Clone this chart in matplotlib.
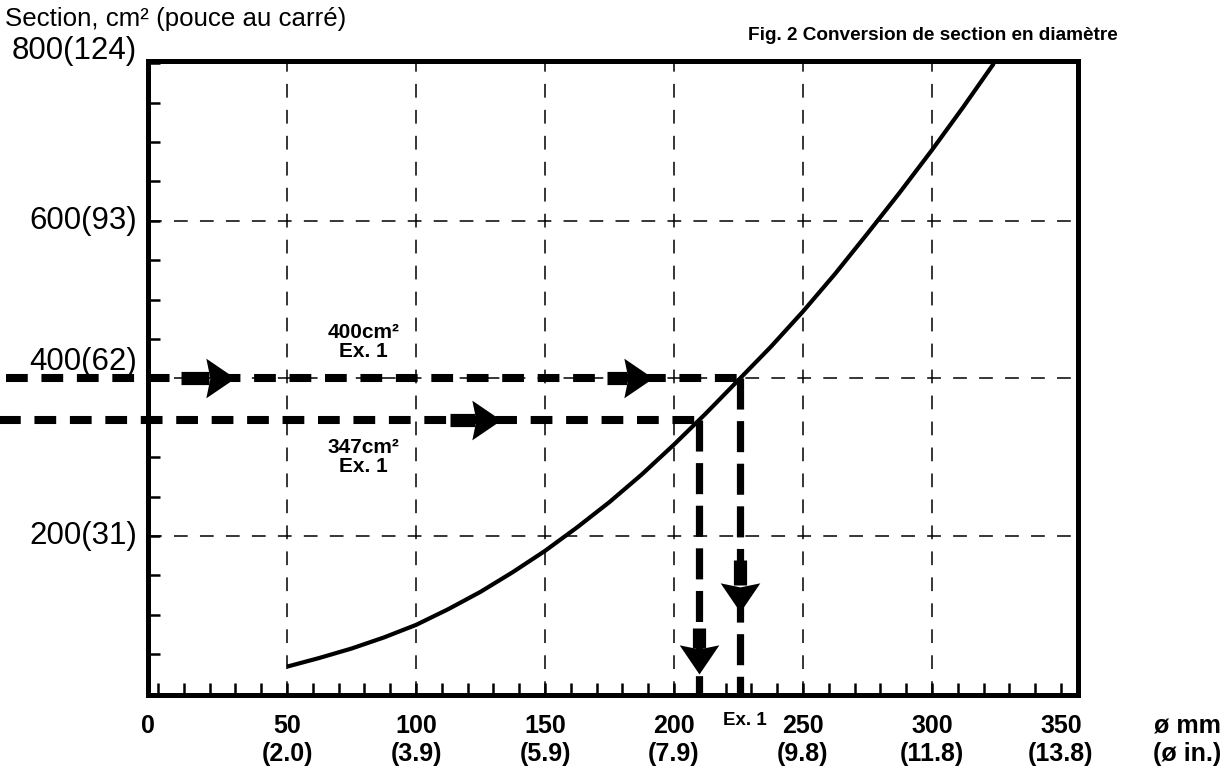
import matplotlib
matplotlib.use("Agg")
import matplotlib.pyplot as plt
import numpy as np
from matplotlib.transforms import ScaledTranslation, Affine2D
from matplotlib.path import Path
from matplotlib.markers import MarkerStyle

plt.rcParams["font.family"] = ["Liberation Sans", "DejaVu Sans"]

# Section (cm²) against pipe diameter (mm)
DIAMETER_MM = [50, 62.5, 75, 87.5, 100, 112.5, 125, 137.5, 150, 162.5, 175, 187.5,
               200, 212.5, 225, 237.5, 250, 262.5, 275, 287.5, 300, 312, 324]
SECTION_CM2 = [34, 45, 57, 71, 87, 107, 129, 154, 181, 211, 243, 278,
               316, 356, 398, 440, 485, 533, 584, 636, 690, 744, 800]

# Worked examples (section values stated on the chart)
EXAMPLE_SECTIONS = [400, 347]
EXAMPLE_LABELS = ["400cm²\nEx. 1", "347cm²\nEx. 1"]

X_TICKS = [0, 50, 100, 150, 200, 250, 300, 350]
X_TICK_LABELS = ["0", "50\n(2.0)", "100\n(3.9)", "150\n(5.9)", "200\n(7.9)",
                 "250\n(9.8)", "300\n(11.8)", "350\n(13.8)"]
Y_TICKS = [200, 400, 600, 800]
Y_TICK_LABELS = ["200(31)", "400(62)", "600(93)", "800(124)"]

GRID_X = [50, 100, 150, 200, 250, 300]
GRID_Y = [200, 400, 600]

fig = plt.figure(figsize=(12.2, 7.73), dpi=100)
ax = fig.add_axes([148 / 1220, 78 / 773, 930 / 1220, 634 / 773])
ax.set_xlim(-3.9, 356.6)
ax.set_ylim(-2, 803)

# thin dashed grid
grid_kw = dict(color="black", lw=1.1, dashes=(9, 8), zorder=1)
for gx in GRID_X:
    ax.axvline(gx, **grid_kw)
for gy in GRID_Y:
    ax.axhline(gy, **grid_kw)

# conversion curve
ax.plot(DIAMETER_MM, SECTION_CM2, color="black", lw=3.0, solid_joinstyle="round",
        solid_capstyle="butt", zorder=4)

# reading lines for the examples
x_hits = [float(np.interp(s, SECTION_CM2, DIAMETER_MM)) for s in EXAMPLE_SECTIONS]
y_bottom = ax.get_ylim()[0]
x_starts = [-59, -62]
for s, xh, xs in zip(EXAMPLE_SECTIONS, x_hits, x_starts):
    ax.plot([xs, xh], [s, s], color="black", lw=5.8, dashes=(2.7, 1.7),
            dash_capstyle="butt", clip_on=False, zorder=5)
    ax.plot([xh, xh], [s, y_bottom], color="black", lw=5.2, dashes=(4.3, 1.6),
            dash_capstyle="butt", clip_on=False, zorder=5)

# swept-back arrow head, tip at the marker origin
head_path = Path([(0, 0), (-1, 0.68), (-0.86, 0), (-1, -0.68), (0, 0)],
                 [Path.MOVETO, Path.LINETO, Path.LINETO, Path.LINETO, Path.CLOSEPOLY])
HEAD_RIGHT = MarkerStyle(head_path)
HEAD_DOWN = MarkerStyle(head_path, transform=Affine2D().rotate_deg(-90))
HEAD_MS = 42          # points; head length is half of this
HEAD_LEN_PX = HEAD_MS / 2 * fig.dpi / 72


def arrow(tail, tip, direction):
    """Thick shaft from tail to the head base, head ending at tip."""
    to_disp = ax.transData
    tip_px = np.array(to_disp.transform(tip))
    if direction == "right":
        base_px = tip_px - np.array([HEAD_LEN_PX - 3, 0])
        marker = HEAD_RIGHT
    else:
        base_px = tip_px + np.array([0, HEAD_LEN_PX - 3])
        marker = HEAD_DOWN
    base = to_disp.inverted().transform(base_px)
    ax.plot([tail[0], base[0]], [tail[1], base[1]], color="black", lw=9.5,
            solid_capstyle="butt", clip_on=False, zorder=6)
    ax.plot([tip[0]], [tip[1]], marker=marker, ms=HEAD_MS, color="black", mew=0,
            clip_on=False, zorder=6)


s400, s347 = EXAMPLE_SECTIONS
x400, x347 = x_hits
arrow((9, s400), (30, s400), "right")
arrow((174, s400), (192, s400), "right")
arrow((113, s347), (133, s347), "right")
arrow((x400, 170), (x400, 104), "down")
arrow((x347, 83), (x347, 25), "down")

# example labels
for s, lab, yc in zip(EXAMPLE_SECTIONS, EXAMPLE_LABELS, [446, 300]):
    ax.text(79.5, yc, lab, ha="center", va="center", fontsize=15,
            fontweight="bold", linespacing=1.0, zorder=7)

# spines and ticks
for sp in ax.spines.values():
    sp.set_linewidth(3.6)
    sp.set_color("black")
ax.set_xticks(X_TICKS)
ax.set_xticklabels(X_TICK_LABELS, fontsize=18, fontweight="bold", linespacing=1.2)
ax.set_xticks(np.arange(10, 351, 10), minor=True)
ax.set_yticks(np.arange(50, 801, 50))
ax.set_yticklabels([])
ax.tick_params(axis="x", which="both", direction="in", length=8.6, width=1.8,
               top=False, pad=14)
ax.tick_params(axis="y", which="both", direction="in", length=8.6, width=1.8,
               right=False, labelleft=False)
for t in ax.get_xticklabels():
    t.set_multialignment("center")
# the origin label sits a little left of its tick
zero_lab = ax.get_xticklabels()[0]
zero_lab.set_transform(zero_lab.get_transform()
                       + ScaledTranslation(-7 / 72, 0, fig.dpi_scale_trans))

# y labels, a few nudged upward clear of the lines
y_offsets = {200: 0, 400: 12, 600: 0, 800: 9}
for yv, lab in zip(Y_TICKS, Y_TICK_LABELS):
    ax.annotate(lab, xy=(0, yv), xycoords=("axes fraction", "data"),
                xytext=(-8, y_offsets[yv]), textcoords="offset points",
                ha="right", va="center", fontsize=22.5, annotation_clip=False)

# axis unit labels and example marker below the axis
ax.annotate("ø mm\n(ø in.)", xy=(399, 0), xycoords=("data", "axes fraction"),
            xytext=(0, -14), textcoords="offset points", ha="center", va="top",
            fontsize=18, fontweight="bold", linespacing=1.2, multialignment="center",
            annotation_clip=False)
ax.annotate("Ex. 1", xy=(x400 + 2, 0), xycoords=("data", "axes fraction"),
            xytext=(0, -12), textcoords="offset points", ha="center", va="top",
            fontsize=13.5, fontweight="bold", annotation_clip=False)

fig.text(5 / 1220, 1 - 26 / 773, "Section, cm² (pouce au carré)", ha="left",
         va="baseline", fontsize=18.6)
fig.text(1118 / 1220, 1 - 40 / 773, "Fig. 2 Conversion de section en diamètre",
         ha="right", va="baseline", fontsize=13.7, fontweight="bold")

fig.savefig("out.png", dpi=100)
